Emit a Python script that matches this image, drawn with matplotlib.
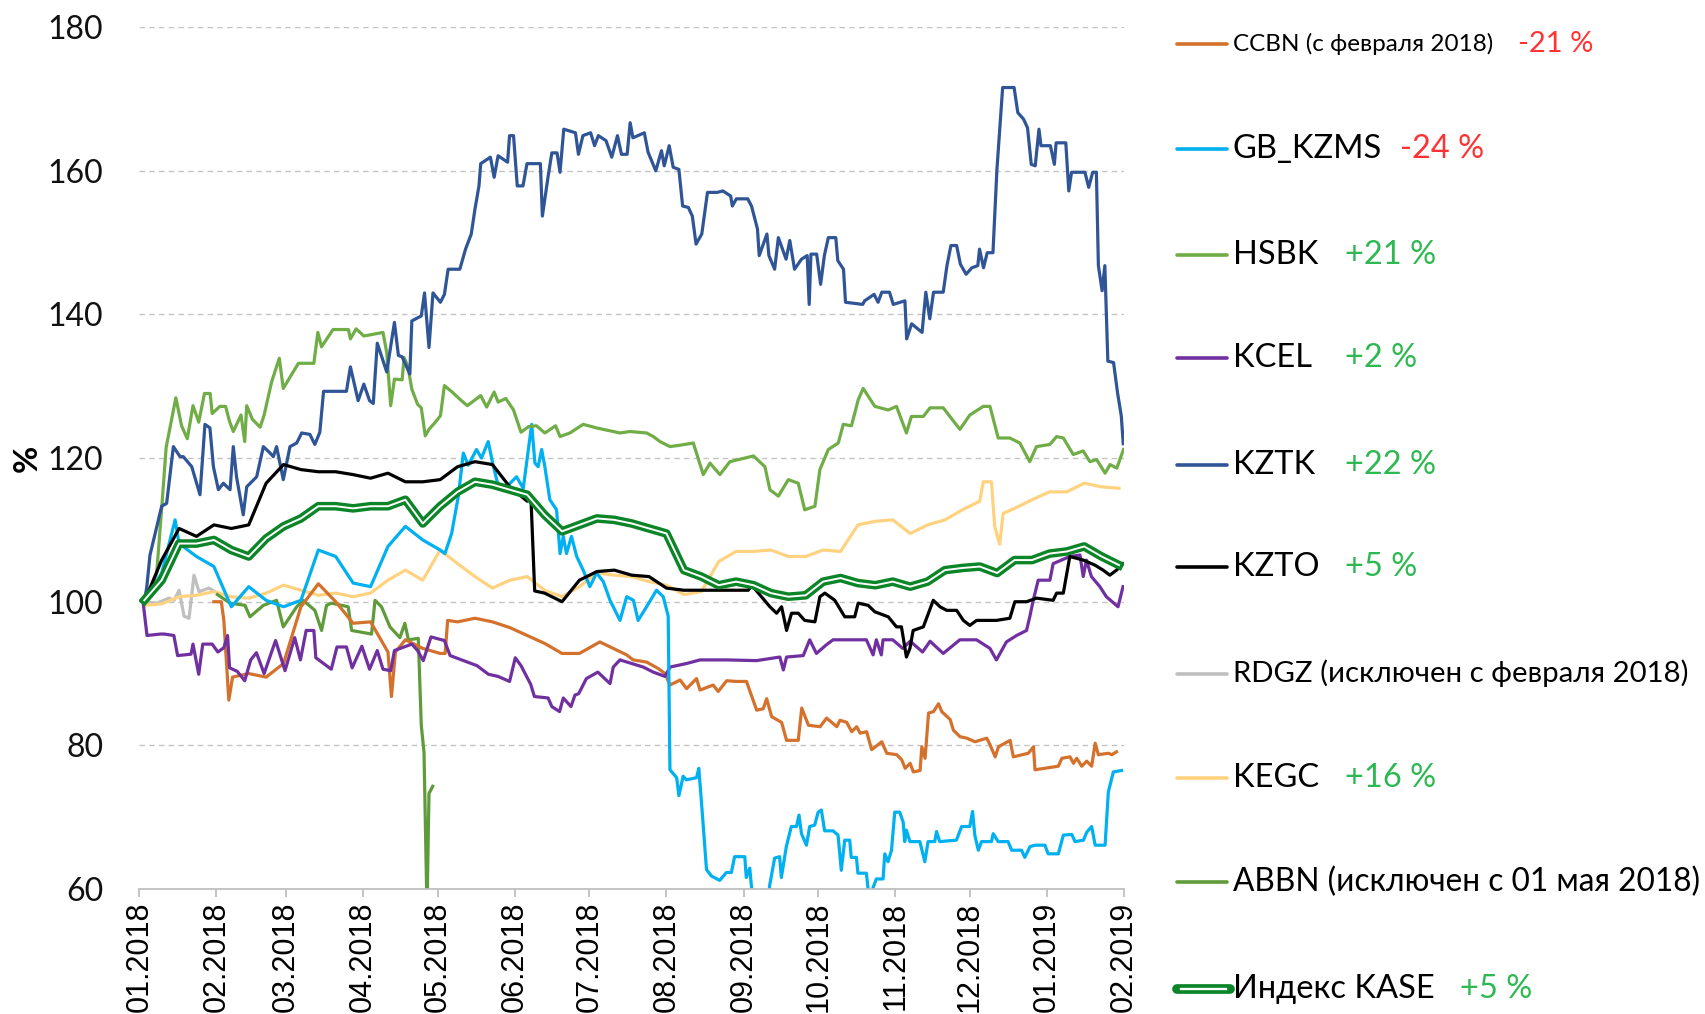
import numpy as np
import pandas as pd
import matplotlib
matplotlib.use('Agg')
import matplotlib.pyplot as plt
import matplotlib.dates as mdates
from matplotlib.lines import Line2D

start = pd.Timestamp('2018-01-01')
# days counted from 01.01.2018; weekly points where the line is calm
week_days = list(range(2, 395, 7))

kase = [100.2, 103, 108.1, 108.1, 108.6, 107.2, 106.3, 108.8, 110.5, 111.6, 113.3,
        113.3, 113, 113.3, 113.3, 114.2, 110.9, 113.3, 115.3, 116.7, 116.3, 115.6,
        114.9, 112.1, 109.8, 110.7, 111.6, 111.4, 110.9, 110.2, 109.5, 104.4, 103.5, 102.3,
        102.8, 102.3, 101.2, 100.7, 100.9, 102.8, 103.3, 102.6, 102.3, 102.8, 102.1,
        102.8, 104.4, 104.7, 104.9, 104.0, 105.8, 105.8, 106.7, 107.0, 107.7, 106.3, 105.1]

kzto_days = week_days[:23] + [157.5, 159] + week_days[23:33] + [
    231.5, 244.9, 246.3, 253.6, 256.3, 258.3, 260.3, 262.3, 265, 267.6, 271.7, 273.7, 275.7,
    279.7, 283.7, 287.7, 289.1, 293.1, 295.8, 301.2, 304.5, 306.5, 308.5, 309.9, 311.2, 315.3,
    319.3, 322, 324.7, 328.7, 331.4, 334, 336.7, 344.7, 350.1, 352.1, 356.8, 360.8, 367.5,
    368.9, 371.6, 374.2, 379.6, 384.3, 387.6, 390.3, 393, 395.6]
kzto = [100, 105.8, 110.2, 109.1, 110.7, 110.2, 110.7, 116.5, 119.1, 118.4, 118.1,
        118.1, 117.7, 117.2, 117.9, 116.7, 116.7, 117, 118.8, 119.5, 119.1, 116, 114,
        114.5, 101.5,
        101.2, 100, 103, 104.2, 104.4, 103.7, 103.5, 101.9, 101.6, 101.6,
        101.6, 101.6, 102.3, 99.3, 98.4, 99.3, 96, 98.4, 98.4, 97.4, 97.2, 100.7, 101.2,
        100.2, 97.9, 97.9, 99.8, 99.5, 98.6, 97.9, 96.5, 96.5, 92.3, 93.5, 96, 96.5,
        100.2, 99.3, 98.8, 98.8, 97.4, 96.7, 97.4, 97.4, 97.7, 100, 100, 100.5, 100.2,
        101.2, 101.2, 106.3, 105.8, 105.1, 104.4, 103.7, 104.4, 105.3]

kcel_days = [1.5, 3.1, 8.5, 10, 13.9, 15.4, 20.8, 21.6, 23.9, 25.5, 29.3, 31.6, 34, 35.5, 36.3,
             39.4, 42.4, 44.8, 47.1, 50.2, 54.8, 58.6, 62.5, 64.8, 67.1, 70.2, 71, 77.2, 79.5,
             83.3, 85.6, 89.5, 92.6, 95.7, 98, 101.1, 102.6, 109.6, 111.9, 114.2, 117.3, 122.7,
             125, 130.4, 135.8, 140.4, 144.3, 148.9, 151.2, 153.5, 157.4, 158.9, 164.4, 165.9,
             169, 170.5, 173.6, 175.2, 176.7, 179.8, 184.4,
             189.3, 190.6, 193.3, 202.7, 206.7, 211.4, 213.4, 220.1, 225.5, 236.2, 248.2, 257.6,
             259, 260.3, 267, 269.6, 272.3, 276.3, 279, 292.4, 295.1, 296.4, 298.4, 299.1, 303,
             307, 310, 315, 318, 323.3, 330, 336.7, 342.1, 344.7, 348.7, 352.8, 356.8, 358.1,
             359.5, 361.5, 366.2, 367.5, 374.2, 378.3, 379.6, 380.9, 382.9, 386.3, 388.9, 393.6,
             395.6]
kcel = [100, 95.3, 95.5, 95.5, 95.3, 92.5, 92.7, 94.1, 89.9, 94.1, 94.1, 93, 93.6, 95.3, 90.8,
        90.3, 89, 91.9, 92.9, 90, 94.6, 90.4, 95, 91.9, 96, 96, 92.2, 90.6, 93.7, 93.7, 90.8,
        93.8, 90.6, 93.2, 90.6, 90.4, 93.2, 94.1, 93.2, 91.8, 95.1, 94.6, 92.5, 91.8, 91.1,
        89.9, 89.6, 88.9, 92.2, 91.1, 88.5, 86.8, 86.6, 85.4, 84.7, 86.6, 85.4, 87, 87.2, 89.3,
        90.2,
        88.6, 90.9, 91.9, 90.9, 90.2, 89.6, 90.9, 91.4, 91.9, 91.9, 91.8, 92.3, 90.5, 92.3,
        92.5, 94.7, 92.8, 94, 94.7, 94.7, 92.6, 94.7, 92.6, 94.7, 94.7, 93.5, 94.5, 93, 94.5,
        92.8, 94.7, 94.7, 93.5, 91.9, 94.4, 95.3, 96, 97.9, 100.2, 103, 103, 105.3, 106.3,
        106.5, 103.5, 105.8, 103.5, 102.1, 100.7, 99.3, 102.1]

kegc_days = week_days[:48] + [338, 339.4, 342.7, 344, 346, 347.4, 352, 359, 366, 373, 380, 387, 394]
kegc = [99.5, 99.7, 100.7, 100.9, 101.4, 100.7, 100.5, 101.2, 102.3, 101.6, 100.9,
        101.2, 100.7, 101.2, 103, 104.4, 103, 107.2, 105.3, 103.5, 101.9, 103,
        103.5, 101.6, 100.7, 102.1, 104, 103.7, 103.5, 102.8, 102.3, 101, 101.4, 105.6,
        107, 107, 107.2, 106.3, 106.3, 107.2, 107, 110.7, 111.2, 111.4, 109.5,
        110.7, 111.4, 112.8,
        114, 116.7, 116.7, 110.5, 108, 112.3, 113, 114.2, 115.3, 115.3, 116.5, 116, 115.8]

kztk_days = [2, 3, 4.3, 9, 11, 13.7, 16.4, 17.7, 21.1, 24.4, 26.4, 28.4, 29.8, 31.8, 33.8, 36.5,
             37.8, 39.1, 41.8, 43.2, 47.2, 49.9, 52.6, 53.9, 55.2, 57.9, 60.6, 63.3, 65.3, 68.6,
             70.6, 72.6, 74.1, 83.3, 84.9, 88, 90.3, 92.6, 94.1, 95.7, 99.5, 102.6, 104.2, 105.7,
             108.8, 109.6, 113.4, 114.7, 116.5, 118.1, 121.1, 122.7, 124.2, 128.9, 131.2, 133.5,
             135, 136.6, 137.3, 141.2, 142.7, 144.3, 148.1, 148.9, 150.5, 152, 154.3, 155.9,
             161.3, 162.1, 164.4, 165.9, 168,
             169.2, 170.7, 175.4, 176.6, 178.4, 181.5, 183.1, 184.6, 187.7, 190, 192.3, 193.9,
             196.2, 197.4, 198.5, 203.1, 204.6, 207.7, 210, 211.1, 213.1, 214.7, 217, 218.5,
             220.8, 222.4, 223.9, 226.2, 228.5, 232.4, 234.7, 237.8, 238.5, 240.1, 244.7, 246.2,
             248.6, 249.3, 252.4, 253.2, 255.5, 257, 260.1, 261.6, 263.5, 266.3, 268.6, 269.4,
             270.1, 272.4, 274, 275.5, 277.1, 280.1, 280.9, 283.2, 284, 290.9, 291.7, 295.5,
             297.1, 298.6, 301.7, 303.2, 307.9, 308.6, 310.6, 314.8, 316.3, 317.9, 319.4, 323.3,
             324.8, 326.4, 328.7, 330.2, 332.5, 334.8, 337.2, 337.9, 339.5, 341, 343.3, 344.9,
             347.2, 351.8, 353.3, 355.6, 357.2, 358.7, 360.3, 361.8, 362.6, 366.4, 368, 368.7,
             372.6, 373.8, 374.9, 380.3, 381.8, 383.4, 384.9, 385.7, 387.2, 388.3, 389.5, 391.8,
             393.4, 394.9, 395.7]
kztk = [100, 102, 106.5, 113.3, 113.7, 121.6, 120.2, 120.2, 118.8, 114.9, 124.7, 124.2, 118.8,
        115.6, 116.5, 115.6, 121.6, 117.4, 112.1, 116, 117.4, 121.6, 120.7, 120.2, 121.6, 117,
        121.6, 122.1, 123.5, 123.3, 121.9, 123.6, 129.3, 129.3, 132.7, 128, 130.3, 128, 127.6,
        136, 132, 138.9, 134.3, 134.1, 131.7, 139.1, 139.8, 143, 135.4, 143, 141.7, 142.8, 146.3,
        146.3, 149.1, 151.2, 154.7, 157.9, 161, 161.9, 159.1, 162.1, 161.2, 164.9, 164.9, 157.9,
        157.9, 161, 161, 153.7, 159.2, 162.5, 162.5,
        159.8, 165.8, 165.3, 162.3, 164.9, 165.3, 163.5, 164.9, 164.2, 161.9, 164.9, 162.3,
        162.3, 166.7, 164.6, 165.3, 162.6, 160, 162.8, 160.7, 163.5, 160.5, 160.2, 155.1,
        154.9, 153.7, 149.8, 151.2, 157, 157, 157.2, 156.5, 155.1, 156.1, 156.1, 155.1,
        151.9, 148.2, 151.2, 148.2, 146.3, 150.7, 147.7, 150.3, 146.3, 147.7, 148.2, 141.4,
        148.4, 148.4, 144.2, 148.2, 150.7, 150.7, 147.5, 146.3, 141.7, 141.4, 141.9, 142.8,
        141.7, 143.1, 143.1, 141.4, 141.9, 136.6, 138.7, 137.5, 143.1, 139.4, 143.1, 143.1,
        146.8, 149.6, 149.6, 147, 145.6, 146.5, 146.8, 149.1, 146.5, 148.6, 148.6, 160.2,
        171.6, 171.6, 168.1, 167.2, 166, 160.9, 160.7, 165.8, 163.5, 163.5, 160.9, 163.9,
        163.9, 157.2, 159.8, 159.8, 157.7, 159.8, 159.8, 146.8, 143.3, 146.8, 133.5, 133.3,
        129.1, 125.9, 122]

hsbk_days = [2, 4, 7, 9, 10.8, 14.7, 17, 19.3, 21.6, 23.9, 26.2, 28.5, 29.3, 32.4, 34.7, 36.3,
             37.8, 40.9, 42.4, 43.2, 45.5, 48.6, 50.2, 53.2, 56.3, 57.9, 61, 64, 70.2, 71.8, 73.3,
             77.9, 84.1, 84.9, 87.2, 90.3, 98, 99.5, 100.3, 101.1, 102.6, 105.7, 106.5, 108, 109.6,
             111.9, 113.4, 115, 116.5, 118.8, 121.1, 122.7, 125.8, 128.9, 131.9, 137.3, 139.7,
             142.7, 144.3, 147.4, 150.5, 153.5, 156.6, 159.7, 163.1, 167.4, 169.2, 173.2, 178.5,
             183.9, 193.3, 197.3, 204, 206.7, 209.4, 213.4, 217.5, 222.8, 226.8, 229.5, 233.5,
             237.5, 247, 251.6, 253.6, 257, 261, 265, 267.6, 271.7, 273.7, 277.1, 281.1, 283.1,
             286.4, 289.1, 291.1, 295.8, 301.2, 304.5, 308.5, 310.5, 315.3, 318, 323.3, 330, 334,
             339.4, 342.1, 345.4, 350.1, 354.1, 358.1, 360.8, 366.2, 368.9, 371.6, 375.6, 379.6,
             382.3, 385, 388.4, 390.4, 393.1, 395.8]
hsbk = [100.5, 101, 104, 113, 121.5, 128.4, 124.5, 122.7, 127.3, 125, 129, 129, 126.2, 127.2,
        127.2, 125.1, 123.7, 126, 122.3, 127.3, 125.4, 124.3, 126, 130.6, 133.9, 129.7, 131.5,
        133.2, 133.2, 137.5, 135.5, 137.9, 137.9, 136.6, 138, 137, 137.5, 134.7, 131, 127.3, 131,
        130.9, 134, 132.8, 129.6, 127.5, 127, 123.1, 124, 124.9, 125.9, 130.1, 129.2, 128.2,
        127.3, 128.7, 127.1, 129.2, 127.8, 128.3, 126.7, 123.6, 124.4, 124.5, 123.5, 124.5, 123,
        123.5, 124.7, 124.2, 123.5, 123.7, 123.5, 123, 122.3, 121.6, 121.8, 122.1, 117.7, 119.3,
        117.7, 119.5, 120.3, 118.8, 115.6, 114.7, 117, 116.5, 112.8, 113.3, 118.4, 121.2, 122.1,
        124.7, 124.5, 128.1, 129.7, 127.2, 126.7, 127.2, 123.5, 125.8, 125.8, 127, 127, 124, 126,
        127.2, 127.2, 122.8, 122.8, 122.1, 119.5, 121.6, 121.9, 123, 122.8, 120.5, 121, 119.5,
        119.8, 117.9, 119.1, 118.6, 121.2]

gb_days = [2, 9, 14.4, 16, 23, 30, 37, 44, 51, 58, 65, 72, 79, 86, 93, 100, 107, 114, 121, 122.9,
           125.6, 128.3, 130.3, 132.3, 135.6, 137.6, 140.3, 142.3, 144.3, 147, 149.7, 151.7, 154.4,
           157.8, 159.1, 160.4, 161.8, 163.1, 165.1, 167.8, 169.2, 170.5, 171.8, 173.8, 175.9,
           178.5, 181.2, 183.9, 186.6, 189.3, 193.3, 196, 198.7, 200.6, 204, 208, 210.7, 212.7,
           213.4, 216.1, 217, 218.7, 220, 224.1, 225, 226.1, 228.1, 230.1, 233.4, 236.1, 238.1,
           239.4, 243.5, 244.1, 245.5, 246.8, 252.8, 253.5, 255.5, 257.5, 258.2, 260.2, 262.2,
           264.3, 265.3, 266.3, 268.3, 269.6, 271.6, 273, 274.3, 275.6, 279, 281, 282.3, 283.7,
           285.7, 286.3, 288.4, 289, 292.4, 293.7, 295.1, 296.4, 299.1, 299.8, 301.1, 302.5,
           303.8, 305.8, 307.2, 307.8, 308.5, 309.9, 313.9, 315.9, 317.2, 319.9, 320.6, 321.9,
           328.6, 330.7, 334, 335.1, 336, 337.4, 338.7, 342.7, 343.4, 345.4, 349.4, 350.8, 354.8,
           356.1, 358.2, 360.2, 364.2, 365.5, 369.6, 371.6, 375, 376.3, 379.7, 381, 383, 384.4,
           388.4, 389.7, 391.7, 395]
gb_kzms = [100, 104, 111.4, 108.1, 106.3, 104.9, 99.3, 102.1, 100.2, 99.3, 100.2, 107.2, 106.3,
           102.6, 102.1, 107.7, 110.5, 108.6, 107.2, 106.7, 109.5, 114.7, 120.7, 119, 121.2, 120,
           122.3, 119, 116.2, 115.8, 116.7, 117.4, 115.8, 124.7, 119.3, 118.8, 121.2, 118.8, 114.2,
           112.8, 106.7, 109.1, 106.7, 109.1, 106.3, 104.4, 102.1, 104, 102.8, 100.2, 97.4, 100.7,
           100.2, 97.4, 99.3, 101.6, 100.7, 98, 76.6, 75.5, 73, 75.7, 75.2, 75.5, 76.8, 72, 62.7,
           61.8, 61.2, 62.3, 62.3, 64.5, 64.5, 61.6, 62.9, 58, 58, 60.5, 64.3, 64.5, 61.6, 65.9,
           68.7, 68.7, 70.3, 67.7, 66.1, 68.7, 68.9, 70.7, 71, 68.1, 68.1, 67.5, 62.6, 66.8, 66.8,
           64.4, 64.4, 62.2, 62.2, 58, 60.2, 61.4, 61.4, 64.9, 63.8, 65.4, 70.7, 70.7, 69.3, 66.6,
           68.2, 66.6, 66.6, 63.8, 66.6, 66.6, 68, 66.6, 66.8, 68.7, 68.7, 70.8, 67.5, 65.4, 66.6,
           66.6, 67.7, 66.6, 66.6, 65.4, 65.4, 64.4, 65.9, 66.1, 66.1, 64.9, 64.9, 67.5, 67.6,
           66.6, 66.8, 67.9, 68.7, 66.1, 66.1, 73.5, 76.3, 76.5]

ccbn_days = [30, 33, 34, 36, 37.5, 44, 51, 58, 65, 72, 79, 86, 93, 100, 101.4, 103, 107, 114, 121,
             123, 124, 128, 135, 142, 149, 156, 163, 170, 177,
             185.2, 190.6, 196, 198.6, 204, 208.7, 211.4, 213.4, 217.5, 220.1, 224.1, 225.5, 230.8,
             232.8, 236.2, 240.2, 244.2, 245.6, 248.3, 250.9, 252.3, 254.3, 258.3, 260.3, 265,
             266.4, 269.1, 273.8, 276.4, 280.5, 281.8, 284.5, 286.5, 288.5, 289.9, 292.5, 294.5,
             298.6, 300.6, 304.6, 306.6, 308, 310, 311.3, 314, 314.7, 316, 317.4, 319.4, 321.4,
             322.7, 326.1, 327.4, 330.1, 332.8, 336.1, 340.8, 342.1, 344.2, 345.5, 350.2, 351.5,
             357.5, 359.6, 360.2, 369.6, 371, 374.3, 375.7, 377, 379, 381, 383, 384.4, 385.7,
             389.7, 391.1, 393]
ccbn = [100, 100, 97.4, 86.3, 89.5, 90, 89.5, 91.4, 99.3, 102.5, 100, 97, 97.2, 93, 86.8, 93,
        94.7, 93.5, 92.8, 92.8, 97.4, 97.2, 97.7, 97.2, 96.4, 95.3, 94.2, 92.8, 92.8,
        94.4, 93.5, 92.6, 91.9, 91.6, 90.7, 90, 88.4, 89.1, 87.9, 89.3, 87.7, 88.4, 87.5, 89,
        88.9, 88.9, 87.5, 84.9, 85.1, 86.5, 84, 83.2, 80.7, 80.7, 85.2, 82.8, 82.6, 83.8, 82.6,
        83.5, 83.2, 81.9, 82.6, 81.7, 81.9, 79.4, 80.5, 78.9, 78.7, 78, 76.8, 77.5, 76.3, 76.5,
        79.8, 78.2, 84.5, 84.7, 85.8, 84.7, 83.6, 82.1, 81.2, 81, 80.5, 81, 80.1, 78.4, 79.8,
        80.7, 78.4, 78.9, 79.8, 76.6, 77.1, 78.2, 78.4, 77.5, 78.2, 77.1, 77.8, 77.1, 80.3, 78.7,
        78.9, 78.7, 79.1]

rdgz_days = [2, 7, 12, 14, 16, 18, 20, 22, 24, 28, 30]
rdgz = [100, 99.8, 100.5, 100.2, 101.6, 98, 97.7, 103.7, 101.4, 101.9, 101.5]

abbn_days = [31.4, 36.5, 42.5, 44.5, 49.9, 55.2, 57.9, 63.3, 65.9, 70.6, 73.3, 75.3, 77.3, 84,
             85.4, 93.4, 94.8, 97.4, 100.8, 104.8, 106.8, 108.2, 112.2, 113.4, 114.5, 115.7,
             116.5, 118]
abbn = [101, 99.8, 99.5, 97.9, 99.5, 100.2, 96.5, 99.3, 100.2, 98.8, 96, 99.5, 99.8, 99.3, 96,
        95.5, 100.2, 99.3, 96.5, 95, 97, 94.7, 94.9, 82.8, 79, 57, 73.3, 74.3]

legend_names = ['CCBN (с февраля 2018)', 'GB_KZMS', 'HSBK', 'KCEL', 'KZTK', 'KZTO',
                'RDGZ (исключен с февраля 2018)', 'KEGC', 'ABBN (исключен с 01 мая 2018)', 'Индекс KASE']
legend_changes = ['-21 %', '-24 %', '+21 %', '+2 %', '+22 %', '+5 %', '', '+16 %', '', '+5 %']

colors = {'CCBN': '#D4712C', 'GB_KZMS': '#00B0F0', 'HSBK': '#70AD47', 'KCEL': '#7030A0',
          'KZTK': '#2F5597', 'KZTO': '#000000', 'RDGZ': '#BFBFBF', 'KEGC': '#FFD280',
          'ABBN': '#5F9B3A', 'KASE': '#0B8527'}
red = '#FF3333'
green = '#2EB851'


def to_dates(days):
    return start + pd.to_timedelta(np.array(days, dtype=float), unit='D')


W, H = 1706, 1014
fig = plt.figure(figsize=(W / 100, H / 100), dpi=100)
ax = fig.add_axes([139.3 / W, 1 - 889 / H, (1124 - 139.3) / W, (889 - 27.2) / H])

lw = 2.3
ax.plot(to_dates(rdgz_days), rdgz, color=colors['RDGZ'], lw=lw)
ax.plot(to_dates(kegc_days), kegc, color=colors['KEGC'], lw=lw)
ax.plot(to_dates(abbn_days), abbn, color=colors['ABBN'], lw=lw)
ax.plot(to_dates(ccbn_days), ccbn, color=colors['CCBN'], lw=lw)
ax.plot(to_dates(kcel_days), kcel, color=colors['KCEL'], lw=lw)
ax.plot(to_dates(gb_days), gb_kzms, color=colors['GB_KZMS'], lw=lw)
ax.plot(to_dates(hsbk_days), hsbk, color=colors['HSBK'], lw=lw)
ax.plot(to_dates(kztk_days), kztk, color=colors['KZTK'], lw=lw)
ax.plot(to_dates(kzto_days), kzto, color=colors['KZTO'], lw=lw)
ax.plot(to_dates(week_days), kase, color=colors['KASE'], lw=6.2, solid_joinstyle='round')
ax.plot(to_dates(week_days), kase, color='white', lw=1.4, solid_joinstyle='round')

ax.set_ylim(60, 180)
ax.set_xlim(start, pd.Timestamp('2019-02-01'))
ax.set_yticks(range(60, 181, 20))
ax.yaxis.grid(True, color='#C4C4C4', linestyle=(0, (4, 3)), lw=1)
ax.set_axisbelow(True)
for s in ['top', 'right', 'left']:
    ax.spines[s].set_visible(False)
ax.spines['bottom'].set_color('#BFBFBF')
ax.spines['bottom'].set_linewidth(1.3)

ax.xaxis.set_major_locator(mdates.MonthLocator())
ax.xaxis.set_major_formatter(mdates.DateFormatter('%m.%Y'))
ax.tick_params(axis='x', colors='#BFBFBF', length=6, width=1.3, pad=3, labelcolor='black',
               labelrotation=90, labelsize=22)
for lab in ax.get_xticklabels():
    lab.set_family('Liberation Sans')
ax.tick_params(axis='y', length=0, pad=26, labelsize=23, labelcolor='#111111')
for lab in ax.get_yticklabels():
    lab.set_family('Lato')

fig.text(27 / W, 1 - 458 / H, '%', rotation=90, ha='center', va='center',
         fontsize=24, fontweight='bold', family='Lato')

# legend drawn by hand at the right
leg_y = [43.5, 149, 254.6, 358, 464.6, 567, 673.5, 778, 882.4, 989]
leg_keys = ['CCBN', 'GB_KZMS', 'HSBK', 'KCEL', 'KZTK', 'KZTO', 'RDGZ', 'KEGC', 'ABBN', 'KASE']
leg_sizes = [17.5, 23.5, 23.5, 23.5, 23.5, 23.5, 21.2, 23.5, 22.8, 23.5]
val_x = [1518, 1400, 1345, 1345, 1345, 1345, None, 1345, None, 1460]
for i, key in enumerate(leg_keys):
    yf = 1 - leg_y[i] / H
    if key == 'KASE':
        fig.add_artist(Line2D([1177 / W, 1230 / W], [yf, yf], color=colors['KASE'], lw=7,
                              solid_capstyle='round'))
        fig.add_artist(Line2D([1181 / W, 1226 / W], [yf, yf], color='white', lw=1.7))
    else:
        fig.add_artist(Line2D([1177 / W, 1227 / W], [yf, yf], color=colors[key], lw=2.6,
                              solid_capstyle='round'))
    fig.text(1233 / W, yf, legend_names[i], ha='left', va='center', fontsize=leg_sizes[i],
             family='Lato')
    if val_x[i] is not None:
        c = red if legend_changes[i].startswith('-') else green
        vsize = 21 if key == 'CCBN' else 23.5
        fig.text(val_x[i] / W, yf, legend_changes[i], ha='left', va='center', fontsize=vsize,
                 family='Lato', color=c)

fig.savefig('out.png', dpi=100)
